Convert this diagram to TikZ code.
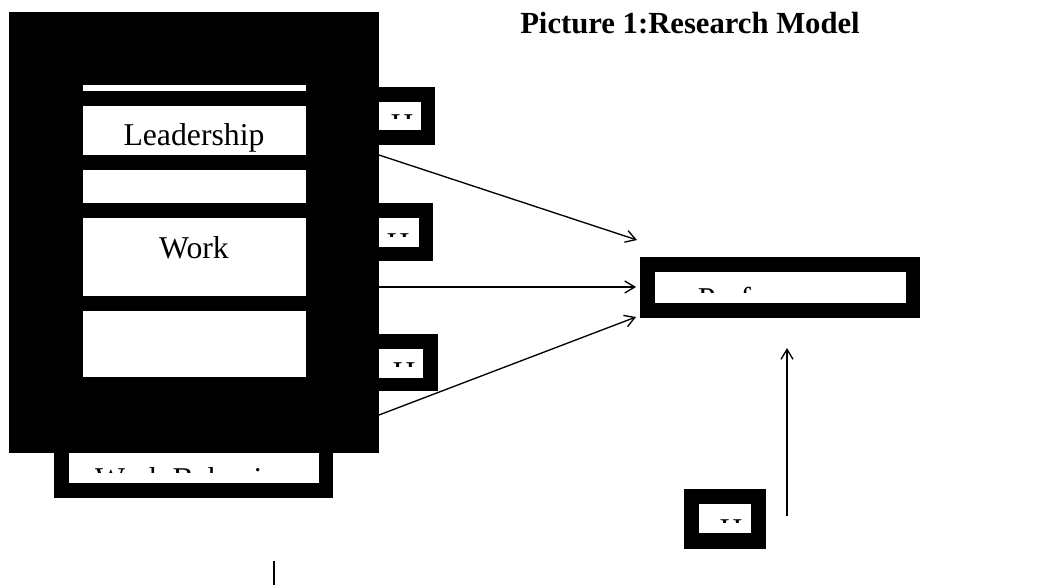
\documentclass[tikz,border=0pt]{standalone}
\usepackage{fontspec}
\setmainfont{Liberation Serif}
\usetikzlibrary{arrows.meta, positioning, fit}

\begin{document}
\begin{tikzpicture}[x=0.75pt, y=-0.75pt,
      blackbox/.style={fill=black, inner sep=0pt, outer sep=0pt},
      whitebox/.style={fill=white, inner sep=0pt, outer sep=0pt},
      lbl/.style={anchor=base, inner sep=0pt, font=\fontsize{23.8}{28}\selectfont},
      link/.style={-{Straight Barb[length=7.5pt, width=9pt]}, line width=1pt}]

      \useasboundingbox (0,0) rectangle (1052,585);

      % Left frame
      \node[blackbox, fit={(9,12) (379,453)}] (frame) {};
      \node[blackbox, fit={(54,453) (333,498)}] (behavebox) {};
      \node[whitebox, fit={(83,85) (306,91)}] (strip) {};
      \node[whitebox, fit={(83,106) (306,155)}] (lead) {};
      \node[whitebox, fit={(83,170) (306,203)}] (gap) {};
      \node[whitebox, fit={(83,218) (306,296)}] (work) {};
      \node[whitebox, fit={(83,311) (306,377)}] (empty) {};
      \node[whitebox, fit={(69,453) (319,483)}] (behave) {};

      % Small boxes
      \node[blackbox, fit={(379,87) (435,145)}] (hbox1) {};
      \node[whitebox, fit={(379,102) (421,130)}] (h1) {};
      \node[blackbox, fit={(379,203) (433,261)}] (hbox2) {};
      \node[whitebox, fit={(379,218) (419,247)}] (h2) {};
      \node[blackbox, fit={(379,334) (438,391)}] (hbox3) {};
      \node[whitebox, fit={(379,349) (423,378)}] (h3) {};
      \node[blackbox, fit={(684,489) (766,549)}] (hbox4) {};
      \node[whitebox, fit={(699,504) (751,533)}] (h4) {};

      % Result
      \node[blackbox, fit={(640,257) (920,318)}] (perfbox) {};
      \node[whitebox, fit={(655,272) (906,303)}] (perf) {};

      % Labels
      \node[lbl, font=\fontsize{23}{27}\selectfont\bfseries] (title) at (690,34) {Picture 1:Research Model};
      \begin{scope}
        \clip (lead.north west) rectangle (lead.south east);
        \node[lbl] (leadtxt) at (194,145) {Leadership};
      \end{scope}
      \node[lbl] (worktxt) at (194,258) {Work};
      \begin{scope}
        \clip (655,272) rectangle (906,292);
        \node[lbl] (perftxt) at (779,309) {Performance};
      \end{scope}
      \begin{scope}
        \clip (69,453) rectangle (319,472);
        \node[lbl] (behavetxt) at (192,489) {Work Behavior};
      \end{scope}
      \begin{scope}
        \clip (379,102) rectangle (421,118);
        \node[lbl] (h1txt) at (402,135) {H};
      \end{scope}
      \begin{scope}
        \clip (379,218) rectangle (419,236);
        \node[lbl] (h2txt) at (398,254) {H};
      \end{scope}
      \begin{scope}
        \clip (379,349) rectangle (423,366);
        \node[lbl] (h3txt) at (404,383) {H};
      \end{scope}
      \begin{scope}
        \clip (699,504) rectangle (751,522);
        \node[lbl] (h4txt) at (731,540) {H};
      \end{scope}

      % Arrows
      \coordinate (s1) at (379,155);
      \coordinate (e1) at (637,240);
      \coordinate (s2) at (379,287);
      \coordinate (e2) at (636,287);
      \coordinate (s3) at (379,415);
      \coordinate (e3) at (636,317);
      \coordinate (s4) at (787,516);
      \coordinate (e4) at (787,348);
      \draw[link] (s1) -- (e1);
      \draw[link] (s2) -- (e2);
      \draw[link] (s3) -- (e3);
      \draw[link] (s4) -- (e4);

      \coordinate (t1) at (274,561);
      \coordinate (t2) at (274,585);
      \draw[line width=1.1pt] (t1) -- (t2);
    \end{tikzpicture}
\end{document}
